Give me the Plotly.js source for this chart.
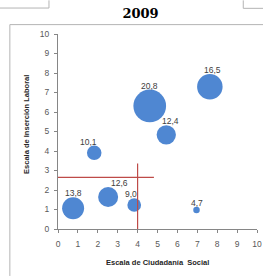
<!DOCTYPE html>
<html>
<head>
<meta charset="utf-8">
<script src="https://cdn.plot.ly/plotly-3.0.1.min.js"></script>
<style>
html,body{margin:0;padding:0;background:#fff;}
#chart{width:263px;height:276px;}
</style>
</head>
<body>
<div id="chart"></div>
<script>
// ---- data ----
var ciudadania = [0.76, 2.52, 3.83, 6.96, 1.82, 5.44, 4.61, 7.63];
var insercion  = [1.06, 1.64, 1.23, 0.97, 3.91, 4.83, 6.31, 7.29];
var bubbleSize = [22, 20, 13.7, 6.5, 14.5, 19.3, 32.7, 25.5];
var bubbleLabels = ['13,8', '12,6', '9,0', '4,7', '10,1', '12,4', '20,8', '16,5'];
var refHX = [0, 4.82];
var refHY = [2.65, 2.65];
var refVX = [4, 4];
var refVY = [0, 3.36];
var xTicks = [0,1,2,3,4,5,6,7,8,9,10];
var yTicks = [0,1,2,3,4,5,6,7,8,9,10];

// ---- styling ----
var W = 263, H = 276;
var M = {l: 58.3, r: 6.3, t: 33.7, b: 47};
var PW = W - M.l - M.r, PH = H - M.t - M.b;
var labelDx = [0, 11, -3.5, 0.5, -5.7, 4, -0.7, 2.4];
var frameCol = '#b4b4b4';
function px(x){return (x - M.l)/PW;}
function py(y){return (H - M.b - y)/PH;}

var traces = [
  {type:'scatter', mode:'markers', x:ciudadania, y:insercion,
   marker:{size:bubbleSize, sizemode:'diameter', sizeref:1, color:'#4f87d2', line:{width:0}, opacity:1},
   hoverinfo:'skip', cliponaxis:false},
  {type:'scatter', mode:'lines', x:refHX, y:refHY, line:{color:'#be4b48', width:1.2}, hoverinfo:'skip'},
  {type:'scatter', mode:'lines', x:refVX, y:refVY, line:{color:'#be4b48', width:1.2}, hoverinfo:'skip'}
];

var annotations = bubbleLabels.map(function(t, i){
  return {x:ciudadania[i], y:insercion[i], xref:'x', yref:'y', text:t, showarrow:false,
    xanchor:'center', yanchor:'middle', xshift:labelDx[i], yshift:bubbleSize[i]/2 + 4,
    font:{family:'Liberation Sans, Arial, sans-serif', size:8.5, color:'#404040'}};
});
annotations.push({xref:'paper', yref:'paper', x:0.5, y:0, yshift:-33.3, xanchor:'center', yanchor:'middle',
  text:'<b>Escala de Ciudadanía  Social</b>', showarrow:false,
  font:{family:'Liberation Sans, Arial, sans-serif', size:7.5, color:'#262626'}});
annotations.push({xref:'paper', yref:'paper', x:0, y:0.5, xshift:-31.6, yshift:7, xanchor:'center', yanchor:'middle',
  text:'<b>Escala de Inserción Laboral</b>', showarrow:false, textangle:-90,
  font:{family:'Liberation Sans, Arial, sans-serif', size:7.5, color:'#262626'}});

var shapes = [
  {type:'line', xref:'paper', yref:'paper', x0:px(10.3), x1:px(263), y0:py(24.3), y1:py(24.3), line:{color:frameCol, width:1}},
  {type:'line', xref:'paper', yref:'paper', x0:px(10.3), x1:px(10.3), y0:py(24.3), y1:py(276), line:{color:frameCol, width:1}},
  {type:'line', xref:'paper', yref:'paper', x0:px(0), x1:px(49.3), y0:py(7.7), y1:py(7.7), line:{color:frameCol, width:1}},
  {type:'line', xref:'paper', yref:'paper', x0:px(49.3), x1:px(49.3), y0:py(0), y1:py(7.7), line:{color:frameCol, width:1}},
  {type:'line', xref:'paper', yref:'paper', x0:px(243), x1:px(263), y0:py(8), y1:py(8), line:{color:frameCol, width:1}},
  {type:'line', xref:'paper', yref:'paper', x0:px(243), x1:px(243), y0:py(0), y1:py(8), line:{color:frameCol, width:1}}
];

var axisFont = {family:'Liberation Sans, Arial, sans-serif', size:8.5, color:'#595959'};
var layout = {
  width:W, height:H, margin:M, showlegend:false,
  paper_bgcolor:'#ffffff', plot_bgcolor:'#ffffff',
  title:{text:'<b>2009</b>', x:140.5/W, xref:'container', xanchor:'center', y:1-13.5/H, yref:'container', yanchor:'middle',
    font:{family:'DejaVu Serif, serif', size:13, color:'#000000'}},
  xaxis:{range:[0,10], tickvals:xTicks, ticktext:xTicks.map(String), showgrid:false, zeroline:false,
    showline:true, linecolor:'#868686', linewidth:1, ticks:'outside', ticklen:3, tickcolor:'#868686',
    tickfont:axisFont, fixedrange:true, ticklabelstandoff:4},
  yaxis:{range:[0,10], tickvals:yTicks, ticktext:yTicks.map(String), showgrid:false, zeroline:false,
    showline:true, linecolor:'#868686', linewidth:1, ticks:'outside', ticklen:3, tickcolor:'#868686',
    tickfont:axisFont, fixedrange:true, ticklabelstandoff:3},
  annotations:annotations, shapes:shapes
};
Plotly.newPlot('chart', traces, layout, {displayModeBar:false, staticPlot:true});
</script>
</body>
</html>
